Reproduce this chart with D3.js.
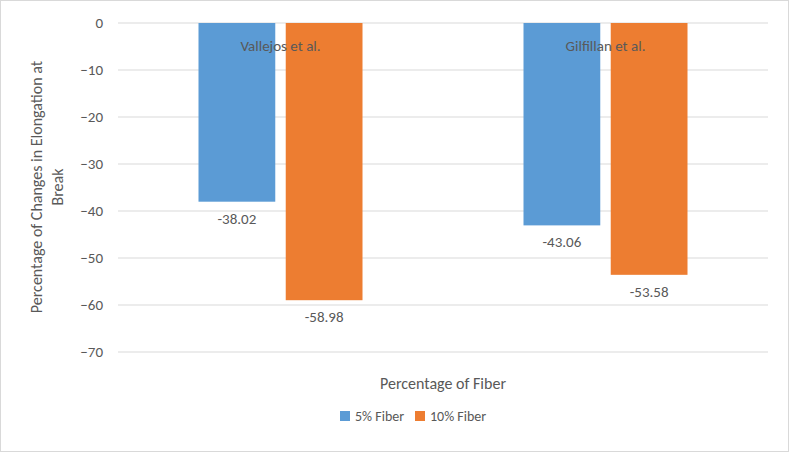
<!DOCTYPE html>
<html><head><meta charset="utf-8">
<script src="https://cdn.jsdelivr.net/npm/d3@7"></script>
<style>body{margin:0;background:#fff}text{font-family:Calibri,Carlito,"Liberation Sans",sans-serif;fill:#595959}</style>
</head><body><main></main>
<script>
const categories = ["Vallejos et al.", "Gilfillan et al."];
const seriesNames = ["5% Fiber", "10% Fiber"];
const fiber5 = [-38.02, -43.06];
const fiber10 = [-58.98, -53.58];
const yTicks = [0, -10, -20, -30, -40, -50, -60, -70];
const colors = ["#5B9BD5", "#ED7D31"];

const w = 789, h = 452;
const margin = {top: 23, right: 21, bottom: 100, left: 118};

const svg = d3.select("main").append("svg").attr("width", w).attr("height", h);
svg.append("rect").attr("x", 0.5).attr("y", 0.5).attr("width", w - 1).attr("height", h - 1)
  .attr("fill", "#fff").attr("stroke", "#d9d9d9");

const x = d3.scaleBand().domain(categories).range([margin.left, w - margin.right]);
const xs = d3.scaleBand().domain(seriesNames).range([80.5, 325 - 80.5]).paddingInner(0.12);
const y = d3.scaleLinear().domain([-70, 0]).range([352, margin.top]);

svg.append("g").selectAll("line").data(yTicks).join("line")
  .attr("x1", margin.left).attr("x2", w - margin.right)
  .attr("y1", d => y(d)).attr("y2", d => y(d))
  .attr("stroke", "#d9d9d9");

svg.append("g").attr("transform", `translate(${margin.left - 12},0)`)
  .call(d3.axisLeft(y).tickValues(yTicks).tickSize(0).tickFormat(d3.format("d")))
  .call(g => g.select(".domain").remove())
  .call(g => g.selectAll("text").attr("font-size", 15).style("fill", "#595959"));

const data = categories.map((c, i) => ({c, vals: [fiber5[i], fiber10[i]]}));
const grp = svg.append("g").selectAll("g").data(data).join("g")
  .attr("transform", d => `translate(${x(d.c)},0)`);
grp.selectAll("rect").data(d => d.vals.map((v, j) => ({k: seriesNames[j], v, j})))
  .join("rect")
  .attr("x", d => xs(d.k)).attr("width", xs.bandwidth())
  .attr("y", y(0)).attr("height", d => y(d.v) - y(0))
  .attr("fill", d => colors[d.j]);
grp.selectAll("text.val").data(d => d.vals.map((v, j) => ({k: seriesNames[j], v})))
  .join("text").attr("class", "val")
  .attr("x", d => xs(d.k) + xs.bandwidth() / 2).attr("y", d => y(d.v) + 22)
  .attr("text-anchor", "middle").attr("font-size", 15).text(d => d.v.toFixed(2));

// category labels sit just under the zero line
svg.append("g").selectAll("text").data(categories).join("text")
  .attr("x", d => x(d) + x.bandwidth() / 2).attr("y", 51)
  .attr("text-anchor", "middle").attr("font-size", 15).text(d => d);

svg.append("text").attr("transform", "translate(42,187) rotate(-90)")
  .attr("text-anchor", "middle").attr("font-size", 16)
  .selectAll("tspan").data(["Percentage of Changes in Elongation at", "Break"]).join("tspan")
  .attr("x", 0).attr("dy", (d, i) => i ? 21 : 0).text(d => d);

svg.append("text").attr("x", 443).attr("y", 389).attr("text-anchor", "middle")
  .attr("font-size", 16).text("Percentage of Fiber");

const leg = svg.append("g").selectAll("g").data(seriesNames).join("g")
  .attr("transform", (d, i) => `translate(${[340, 415][i]},416)`);
leg.append("rect").attr("width", 10).attr("height", 10).attr("y", -5).attr("fill", (d, i) => colors[i]);
leg.append("text").attr("x", 15).attr("y", 5).attr("font-size", 14).text(d => d);
</script></body></html>
